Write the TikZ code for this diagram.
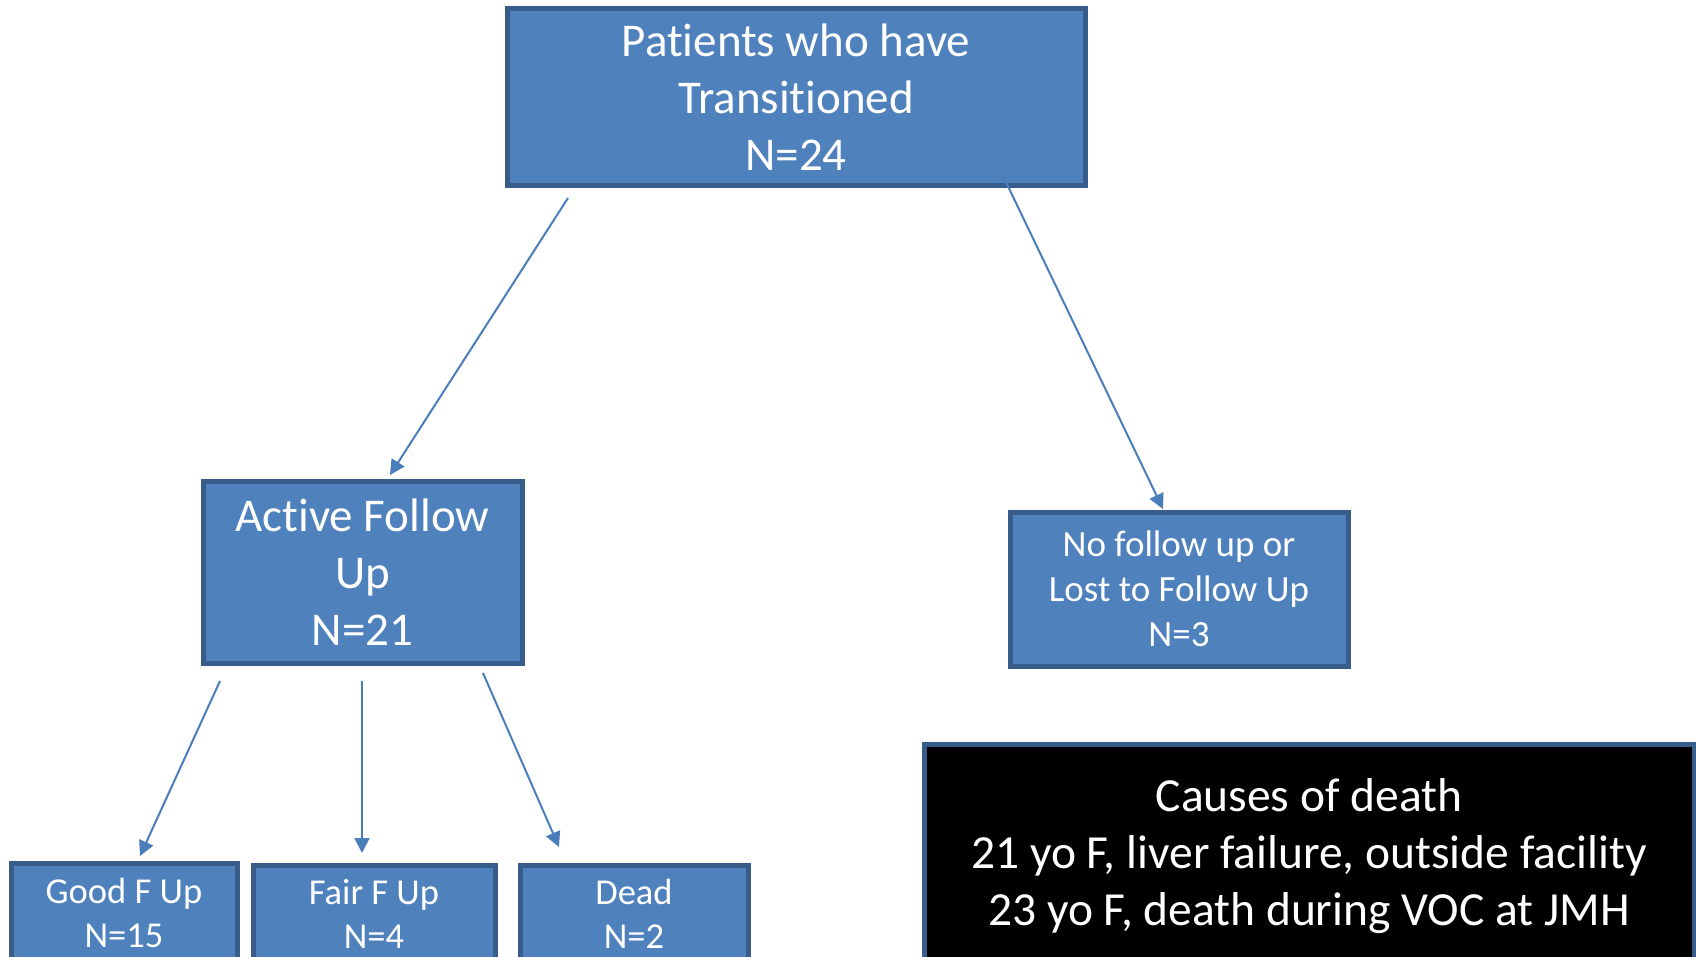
\documentclass[tikz,border=0pt]{standalone}
\usepackage{fontspec}
\setmainfont{Carlito}[Ligatures={NoCommon,NoContextual},RawFeature={-liga;-clig}]
\usetikzlibrary{arrows.meta}
\definecolor{boxfill}{HTML}{4F81BD}
\definecolor{boxline}{HTML}{385D8A}
\definecolor{arrowc}{HTML}{4A7EBB}
\tikzset{
  bluebox/.style={rectangle, draw=boxline, fill=boxfill, line width=5pt, inner sep=0pt,
    text=white, align=center},
  blackbox/.style={rectangle, draw=boxline, fill=black, line width=5pt, inner sep=0pt,
    text=white, align=center},
  bigtext/.style={font=\fontsize{47}{57}\selectfont},
  causetext/.style={font=\fontsize{47.5}{57}\selectfont},
  midtext/.style={font=\fontsize{37}{45}\selectfont},
  smalltext/.style={font=\fontsize{36.5}{44}\selectfont},
  conn/.style={draw=arrowc, line width=2pt, -{Triangle[length=15pt,width=15pt]}, arrowc},
}
\begin{document}
\begin{tikzpicture}[x=1pt,y=-1pt]
\clip (0,0) rectangle (1696,957);
\useasboundingbox (0,0) rectangle (1696,957);
\node[bluebox,bigtext,minimum width=578pt,minimum height=177pt] (top) at (796,97.5)
  {Patients who have\\Transitioned\\N=24};
\node[bluebox,bigtext,minimum width=319pt,minimum height=182pt] (active) at (362.5,572)
  {Active Follow\\Up\\N=21};
\node[bluebox,midtext,minimum width=338pt,minimum height=154pt] (nofollow) at (1179,589)
  {No follow up or\\Lost to Follow Up\\N=3};
\node[blackbox,causetext,minimum width=770pt,minimum height=224pt] (causes) at (1309,856)
  {Causes of death\\21 yo F, liver failure, outside facility\\23 yo F, death during VOC at JMH};
\node[bluebox,smalltext,minimum width=226pt,minimum height=99pt] (good) at (124,912.5)
  {Good F Up\\N=15};
\node[bluebox,smalltext,minimum width=242pt,minimum height=97pt] (fair) at (374,913.5)
  {Fair F Up\\N=4};
\node[bluebox,smalltext,minimum width=228pt,minimum height=97pt] (dead) at (634,913.5)
  {Dead\\N=2};
\coordinate (a1s) at (568,198);  \coordinate (a1e) at (390,475);
\coordinate (a2s) at (1004,178); \coordinate (a2e) at (1163,509);
\coordinate (a3s) at (220,681);  \coordinate (a3e) at (140,856);
\coordinate (a4s) at (362,681);  \coordinate (a4e) at (362,853);
\coordinate (a5s) at (483,673);  \coordinate (a5e) at (559,847);
\draw[conn] (a1s) -- (a1e);
\draw[conn] (a2s) -- (a2e);
\draw[conn] (a3s) -- (a3e);
\draw[conn] (a4s) -- (a4e);
\draw[conn] (a5s) -- (a5e);
\end{tikzpicture}
\end{document}
